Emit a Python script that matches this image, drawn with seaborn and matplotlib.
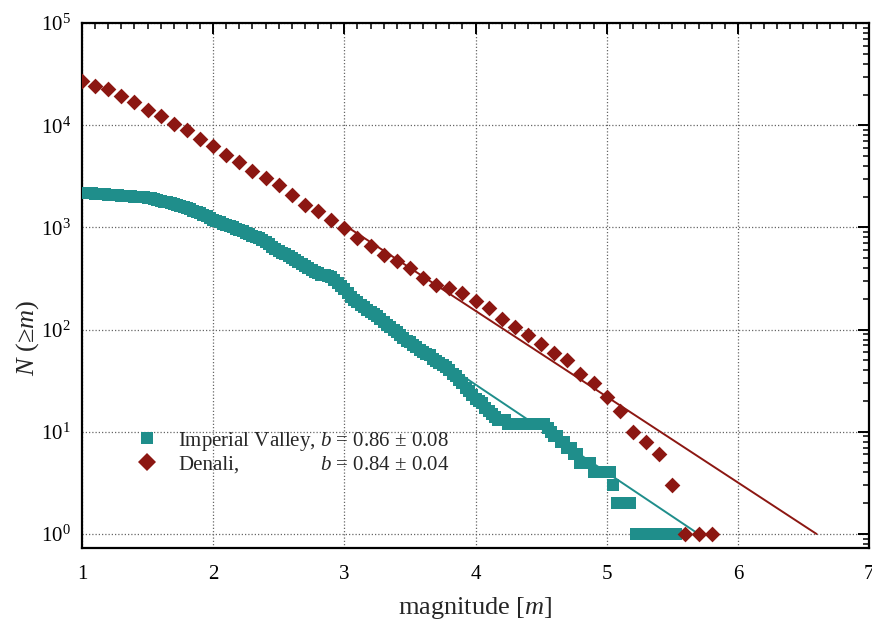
import matplotlib
matplotlib.use("Agg")
import numpy as np
import pandas as pd
import matplotlib.pyplot as plt
import seaborn as sns
from matplotlib.ticker import MultipleLocator, LogLocator, LogFormatterMathtext, NullFormatter
from matplotlib.lines import Line2D

# Imperial Valley: cumulative number of events N(>=m), sampled every 0.025 up to 5.05
iv_m = [round(1.0 + 0.025 * i, 3) for i in range(163)] + \
       [5.075, 5.100, 5.125, 5.150, 5.175,
        5.225, 5.250, 5.275, 5.300, 5.325, 5.350, 5.375, 5.400,
        5.425, 5.450, 5.475, 5.500, 5.525]
iv_n = [2170, 2165, 2160, 2150, 2140, 2130, 2120, 2105, 2090, 2080,   # 1.000-1.225
        2070, 2055, 2040, 2030, 2020, 2010, 2000, 1990, 1980, 1965,   # 1.250-1.475
        1950, 1920, 1890, 1855, 1820, 1790, 1760, 1730, 1700, 1665,   # 1.500-1.725
        1630, 1590, 1550, 1505, 1460, 1420, 1380, 1335, 1290, 1240,   # 1.750-1.975
        1190, 1155, 1120, 1085, 1050, 1025, 1000, 975, 950, 920,      # 2.000-2.225
        890, 860, 830, 805, 780, 750, 720, 685, 650, 620,             # 2.250-2.475
        590, 565, 545, 520, 500, 480, 460, 440, 417, 400,             # 2.500-2.725
        385, 370, 355, 345, 340, 332, 324, 305, 288, 268,             # 2.750-2.975
        250, 228, 210, 196, 185, 176, 166, 157, 150, 143,             # 3.000-3.225
        136, 127, 118, 111, 105, 99, 94, 88, 83, 78,                  # 3.250-3.475
        75, 71, 67, 63, 61, 58, 56, 52, 49, 47,                       # 3.500-3.725
        45, 43, 40, 37, 35, 32, 30, 27, 25, 23,                       # 3.750-3.975
        21, 20, 19, 17, 16, 15, 14, 13, 13, 13,                       # 4.000-4.225
        12, 12, 12, 12, 12, 12, 12, 12, 12, 12,                       # 4.250-4.475
        12, 12, 11, 10, 9, 9, 8, 8, 7, 7,                             # 4.500-4.725
        6, 6, 5, 5, 5, 5, 4, 4, 4, 4,                                 # 4.750-4.975
        4, 4, 3,                                                      # 5.000-5.050
        2, 2, 2, 2, 2,
        1, 1, 1, 1, 1, 1, 1, 1,
        1, 1, 1, 1, 1]

# Denali: cumulative number of events N(>=m), 0.1 magnitude steps
denali_m = [1.0, 1.1, 1.2, 1.3, 1.4, 1.5, 1.6, 1.7, 1.8, 1.9,
            2.0, 2.1, 2.2, 2.3, 2.4, 2.5, 2.6, 2.7, 2.8, 2.9,
            3.0, 3.1, 3.2, 3.3, 3.4, 3.5, 3.6, 3.7, 3.8, 3.9,
            4.0, 4.1, 4.2, 4.3, 4.4, 4.5, 4.6, 4.7, 4.8, 4.9,
            5.0, 5.1, 5.2, 5.3, 5.4, 5.5, 5.6, 5.7, 5.8]
denali_n = [26900, 24500, 22400, 19500, 17000, 14100, 12300, 10200, 8900, 7400,
            6200, 5100, 4400, 3550, 3050, 2600, 2090, 1660, 1450, 1170,
            980, 790, 660, 540, 470, 400, 320, 275, 257, 229,
            190, 162, 126, 105, 89, 72, 59, 50, 37, 30,
            22, 16, 10, 8, 6, 3, 1, 1, 1]

# Gutenberg-Richter fits, log10 N = a - b m
iv_a, iv_b = 4.902, 0.86
iv_fit_range = [3.3, 5.7]
denali_a, denali_b = 5.544, 0.84
denali_fit_range = [3.0, 6.6]

iv_color = "#1f8e8b"
denali_color = "#8c1712"

sns.set_theme(style="white")
plt.rcParams["font.family"] = ["Liberation Serif", "DejaVu Serif"]
plt.rcParams["mathtext.fontset"] = "custom"
plt.rcParams["mathtext.rm"] = "Liberation Serif"
plt.rcParams["mathtext.it"] = "Liberation Serif:italic"
plt.rcParams["mathtext.bf"] = "Liberation Serif:bold"

fig = plt.figure(figsize=(8.72, 6.24), dpi=100)
ax = fig.add_axes([0.094, 0.1213, 0.9026, 0.8417])

iv_df = pd.DataFrame({"m": iv_m, "N": iv_n})
den_df = pd.DataFrame({"m": denali_m, "N": denali_n})

fit_iv = pd.DataFrame({"m": iv_fit_range})
fit_iv["N"] = 10 ** (iv_a - iv_b * fit_iv["m"])
fit_den = pd.DataFrame({"m": denali_fit_range})
fit_den["N"] = 10 ** (denali_a - denali_b * fit_den["m"])

ax.set_yscale("log")
sns.scatterplot(data=iv_df, x="m", y="N", marker="s", s=80, color=iv_color,
                linewidth=0, ax=ax, legend=False, zorder=3)
sns.lineplot(data=fit_iv, x="m", y="N", color=iv_color, lw=1.4, ax=ax,
             legend=False, zorder=4)
sns.scatterplot(data=den_df, x="m", y="N", marker="D", s=64, color=denali_color,
                linewidth=0, ax=ax, legend=False, zorder=5)
sns.lineplot(data=fit_den, x="m", y="N", color=denali_color, lw=1.4, ax=ax,
             legend=False, zorder=4)

ax.set_xlim(1, 7)
ax.set_ylim(0.724, 1e5)
ax.xaxis.set_major_locator(MultipleLocator(1))
ax.xaxis.set_minor_locator(MultipleLocator(0.1))
ax.yaxis.set_major_locator(LogLocator(base=10, numticks=10))
ax.yaxis.set_minor_locator(LogLocator(base=10, subs=np.arange(2, 10), numticks=20))
ax.yaxis.set_major_formatter(LogFormatterMathtext())
ax.yaxis.set_minor_formatter(NullFormatter())

ax.grid(True, which="major", linestyle=(0, (1, 1.6)), color="0.4", lw=0.9)
ax.tick_params(which="both", direction="in", top=True, right=True, colors="black")
ax.tick_params(which="major", length=8, width=1.4, labelsize=15)
ax.tick_params(axis="x", which="major", pad=12)
ax.tick_params(axis="y", which="major", pad=8)
ax.tick_params(which="minor", length=4.5, width=1.1)
for sp in ax.spines.values():
    sp.set_color("black")
    sp.set_linewidth(1.6)

ax.set_xlabel("magnitude [$m$]", fontsize=19, labelpad=8)
ax.set_ylabel("$N$ (\u2265$m$)", fontsize=19)
ax.yaxis.set_label_coords(-0.052, 0.40)

handles = [
    Line2D([], [], linestyle="none", marker="s", markersize=9.2,
           color=iv_color, markeredgewidth=0),
    Line2D([], [], linestyle="none", marker="D", markersize=9.4,
           color=denali_color, markeredgewidth=0),
]
labels = ["Imperial Valley, $b$ = 0.86 \u00b1 0.08", "Denali,"]
leg = ax.legend(handles, labels, loc="center left",
                bbox_to_anchor=(0.056, 0.183), frameon=False, fontsize=15,
                handlelength=1.0, handletextpad=1.0, labelspacing=0.12,
                borderpad=0.0)

fig.canvas.draw()
renderer = fig.canvas.get_renderer()
t0, t1 = leg.get_texts()
bb0 = t0.get_window_extent(renderer)
bb1 = t1.get_window_extent(renderer)
ax.text(bb0.x1, (bb1.y0 + bb1.y1) / 2, "$b$ = 0.84 \u00b1 0.04",
        transform=None, ha="right", va="center", fontsize=15)

fig.savefig("out.png", dpi=100)
